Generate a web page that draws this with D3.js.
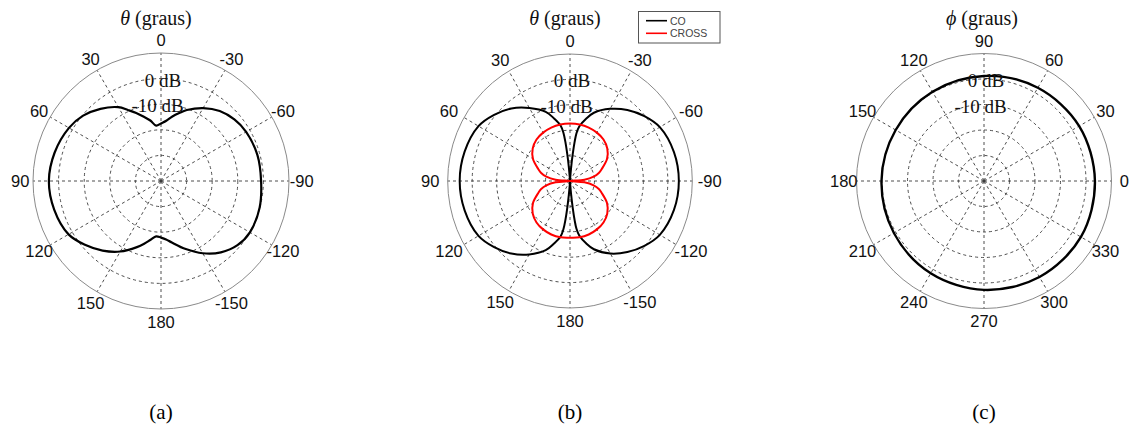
<!DOCTYPE html>
<html>
<head>
<meta charset="utf-8">
<script src="https://cdn.jsdelivr.net/npm/d3@7"></script>
<style>
  body { margin: 0; background: #fff; }
  svg { display: block; }
</style>
</head>
<body>
<svg id="fig" width="1134" height="434"></svg>
<script>
// ---------------- data ----------------
// (a) theta cut, co-polar gain in dB (theta in degrees, 0 at top, positive to the left)
const thetaA = [0, 5, 10, 15, 20, 25, 30, 40, 50, 60, 75, 90, 105, 120, 130, 140, 150, 160, 165, 170, 175, 180,
                -175, -170, -160, -150, -140, -130, -120, -105, -90, -75, -60, -50, -40, -30, -20, -15, -10, -5];
const coA    = [-17.5, -18.3, -16.0, -14.0, -11.7, -9.4, -6.7, -3.2, -0.3, 1.5, 3.0, 3.8, 3.2, 1.7, -1.2, -4.5, -8.2, -12.5, -14.6, -16.7, -18.3, -17.9,
                -17.1, -15.6, -11.7, -7.4, -3.6, -1.0, 0.1, -0.1, -0.9, -1.0, -1.6, -2.6, -4.3, -7.1, -10.5, -12.5, -14.4, -16.4];

// (b) theta cut, co-polar and cross-polar gain in dB
const thetaBco = [0, 4, 5, 6, 7, 8, 10, 15, 20, 30, 40, 50, 60, 75, 90, 105, 120, 130, 140, 150, 160, 165, 170, 172, 173, 174, 175, 176, 180,
                  -176, -175, -174, -173, -172, -170, -165, -160, -150, -140, -130, -120, -105, -90, -75, -60, -50, -40, -30, -20, -15, -10, -8, -7, -6, -5, -4];
const coB      = [-40, -38.4, -34.5, -29.5, -24.5, -21.0, -17.8, -14.4, -11.0, -6.8, -2.7, 0.5, 3.2, 4.6, 5.1, 4.6, 3.2, 0.5, -2.7, -6.6, -11.0, -14.4, -17.8, -21.0, -24.5, -29.5, -34.5, -38.4, -40,
                  -38.4, -34.5, -29.5, -24.5, -21.0, -18.2, -14.6, -11.4, -7.0, -3.5, -0.3, 2.4, 4.0, 4.5, 4.0, 2.4, -0.3, -3.5, -7.2, -11.4, -14.6, -18.2, -21.0, -24.5, -29.5, -34.5, -38.4];
const thetaBx  = [0, 10, 20, 30, 40, 50, 60, 70, 75, 80, 85, 90, 95, 100, 105, 110, 120, 130, 140, 150, 160, 170, 180,
                  -170, -160, -150, -140, -130, -120, -110, -105, -100, -95, -90, -85, -80, -75, -70, -60, -50, -40, -30, -20, -10];
const crossB   = [-17.4, -17.4, -17.6, -18.0, -18.7, -20.1, -22.5, -26.2, -27.8, -30.2, -34.1, -40, -34.1, -30.2, -27.8, -26.2, -22.5, -20.1, -18.7, -18.0, -17.6, -17.5, -17.7,
                  -17.5, -17.6, -18.0, -18.7, -20.1, -22.5, -26.2, -27.8, -30.2, -34.1, -40, -34.1, -30.2, -27.8, -26.2, -22.5, -20.1, -18.7, -18.0, -17.6, -17.4];

// (c) phi cut, co-polar gain in dB (phi in degrees, 0 at right, counter-clockwise)
const phiC = [0, 30, 60, 90, 120, 150, 180, 210, 240, 270, 300, 330];
const coC  = [3.5, 3.1, 2.2, 1.2, 0.4, 0.0, 0.2, 0.8, 1.8, 2.7, 3.5, 3.9];

// axes
const dbDomain      = [-40, 10];
const ringDb        = [-30, -20, -10, 0];
const ringLabels    = [{db: 0, text: "0 dB", dx: 2}, {db: -10, text: "-10 dB", dx: -3.5}];
const spokeAngles   = [0, 30, 60, 90, 120, 150, 180, 210, 240, 270, 300, 330];
const thetaTickText = ["0", "30", "60", "90", "120", "150", "180", "-150", "-120", "-90", "-60", "-30"];
const phiTickText   = ["0", "30", "60", "90", "120", "150", "180", "210", "240", "270", "300", "330"];
const legendNames   = ["CO", "CROSS"];
const captions      = ["(a)", "(b)", "(c)"];

// ---------------- drawing ----------------
const svg = d3.select("#fig");
const SANS = "'Liberation Sans', Arial, sans-serif";
const SERIF = "'Liberation Serif', 'Times New Roman', serif";
const rad = d => d * Math.PI / 180;

const panels = [
  { cx: 161, cy: 181, R: 128, kx: 1.0, zero: 90, sym: "\u03b8", titleX: 156, ticks: thetaTickText,
    series: [{ ang: thetaA, db: coA, color: "#000", w: 2.2 }], caption: captions[0] },
  { cx: 570, cy: 181, R: 127, kx: 0.963, zero: 90, sym: "\u03b8", titleX: 565, ticks: thetaTickText,
    series: [{ ang: thetaBco, db: coB, color: "#000", w: 2.0 }, { ang: thetaBx, db: crossB, color: "#ff0000", w: 2.0 }],
    caption: captions[1], legend: true },
  { cx: 984, cy: 181, R: 127.5, kx: 1.0, zero: 0, sym: "\u03d5", titleX: 982, ticks: phiTickText,
    series: [{ ang: phiC, db: coC, color: "#000", w: 2.4 }], caption: captions[2] }
];

panels.forEach(p => {
  const g = svg.append("g");
  const r = d3.scaleLinear().domain(dbDomain).range([0, p.R]).clamp(true);
  const screen = a => rad(p.zero + a);
  const px = (a, db) => p.cx + p.kx * r(db) * Math.cos(screen(a));
  const py = (a, db) => p.cy - r(db) * Math.sin(screen(a));

  // dashed rings
  g.selectAll("ellipse.ring").data(ringDb).join("ellipse")
    .attr("cx", p.cx).attr("cy", p.cy)
    .attr("rx", d => p.kx * r(d)).attr("ry", d => r(d))
    .attr("fill", "none").attr("stroke", "#3a3a3a").attr("stroke-width", 0.9)
    .attr("stroke-dasharray", "3,3");

  // dashed spokes
  g.selectAll("line.spoke").data(spokeAngles).join("line")
    .attr("x1", p.cx).attr("y1", p.cy)
    .attr("x2", d => px(d, dbDomain[1])).attr("y2", d => py(d, dbDomain[1]))
    .attr("stroke", "#3a3a3a").attr("stroke-width", 0.9).attr("stroke-dasharray", "3,3");

  // outer boundary
  g.append("ellipse").attr("cx", p.cx).attr("cy", p.cy)
    .attr("rx", p.kx * r(dbDomain[1])).attr("ry", r(dbDomain[1]))
    .attr("fill", "none").attr("stroke", "#8a8a8a").attr("stroke-width", 1);

  // angle tick labels
  const rl = 1.1 * p.R;
  g.selectAll("text.tick").data(spokeAngles).join("text")
    .attr("x", d => p.cx + rl * Math.cos(screen(d)))
    .attr("y", d => p.cy - rl * Math.sin(screen(d)))
    .attr("text-anchor", "middle").attr("dominant-baseline", "central")
    .attr("font-family", SANS).attr("font-size", 16.5).attr("fill", "#111")
    .text((d, i) => p.ticks[i]);

  // patterns
  p.series.forEach(s => {
    const pts = s.ang.map((a, i) => [px(a, s.db[i]), py(a, s.db[i])]);
    g.append("path")
      .attr("d", d3.line().curve(d3.curveCatmullRomClosed.alpha(0.5))(pts))
      .attr("fill", "none").attr("stroke", s.color).attr("stroke-width", s.w)
      .attr("stroke-linejoin", "round");
  });

  // ring labels
  g.selectAll("text.ringlab").data(ringLabels).join("text")
    .attr("x", d => p.cx + d.dx)
    .attr("y", d => p.cy - r(d.db) + 1.5)
    .attr("text-anchor", "middle").attr("dominant-baseline", "central")
    .attr("font-family", SERIF).attr("font-size", 19).attr("fill", "#111")
    .text(d => d.text);

  // title
  const t = g.append("text").attr("x", p.titleX).attr("y", 18)
    .attr("text-anchor", "middle").attr("dominant-baseline", "central")
    .attr("font-family", SERIF).attr("font-size", 20).attr("fill", "#111");
  t.append("tspan").attr("font-style", "italic").text(p.sym);
  t.append("tspan").text(" (graus)");

  // caption
  g.append("text").attr("x", p.cx).attr("y", 412)
    .attr("text-anchor", "middle").attr("dominant-baseline", "central")
    .attr("font-family", SERIF).attr("font-size", 21).attr("fill", "#000")
    .text(p.caption);

  // legend
  if (p.legend) {
    const lg = g.append("g");
    lg.append("rect").attr("x", 638.5).attr("y", 11.5).attr("width", 81.5).attr("height", 31.5)
      .attr("fill", "#fff").attr("stroke", "#555").attr("stroke-width", 1);
    p.series.forEach((s, i) => {
      const yy = 20.7 + i * 12.6;
      lg.append("line").attr("x1", 646).attr("x2", 667).attr("y1", yy).attr("y2", yy)
        .attr("stroke", s.color).attr("stroke-width", 1.6);
      lg.append("text").attr("x", 670).attr("y", yy).attr("dominant-baseline", "central")
        .attr("font-family", SANS).attr("font-size", 10.5).attr("fill", "#444")
        .text(legendNames[i]);
    });
  }
});
</script>
</body>
</html>
